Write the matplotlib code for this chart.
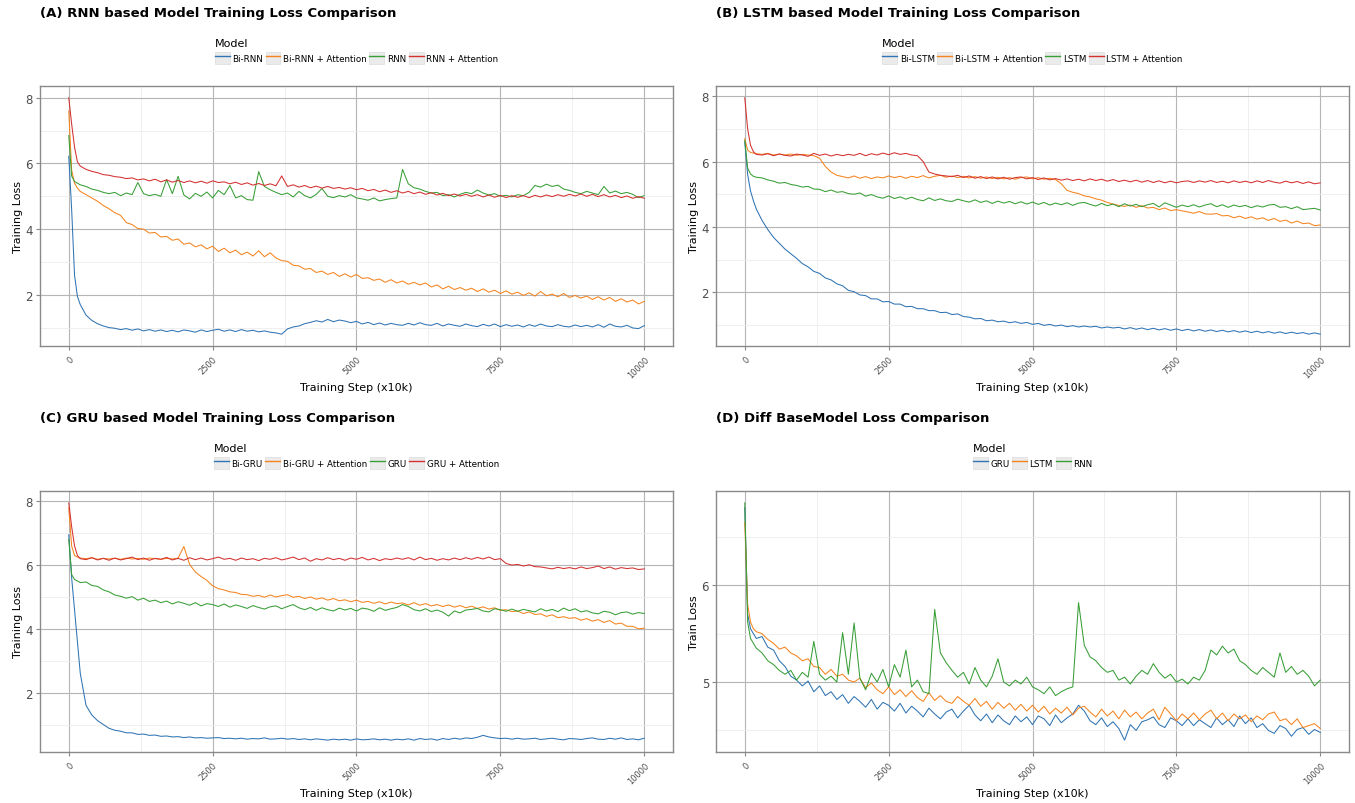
import numpy as np
import matplotlib.pyplot as plt
from matplotlib.lines import Line2D
from matplotlib.patches import Patch
from matplotlib.legend_handler import HandlerTuple
from matplotlib.ticker import MultipleLocator

plt.rcParams['font.family'] = 'DejaVu Sans'

steps = [0, 50, 100, 150] + list(range(200, 10001, 100))

# base models (shared by panels A/B/C and D)
rnn = [6.85, 5.62, 5.45, 5.40, 5.35, 5.30, 5.22, 5.18, 5.12, 5.08,
       5.12, 5.02, 5.10, 5.05, 5.42, 5.08, 5.02, 5.06, 5.00, 5.51,
       5.08, 5.61, 5.04, 4.92, 5.09, 5.00, 5.13, 4.95, 5.18, 5.05,
       5.33, 4.95, 5.02, 4.90, 4.88, 5.75, 5.30, 5.20, 5.12, 5.05,
       5.10, 4.98, 5.15, 5.02, 4.95, 5.06, 5.24, 5.00, 4.96, 5.02,
       4.98, 5.05, 4.95, 4.92, 4.88, 4.95, 4.86, 4.90, 4.93, 4.95,
       5.82, 5.38, 5.26, 5.22, 5.15, 5.10, 5.12, 5.02, 5.05, 4.98,
       5.06, 5.12, 5.08, 5.19, 5.10, 5.04, 5.08, 5.00, 5.03, 4.98,
       5.05, 5.02, 5.12, 5.33, 5.28, 5.37, 5.30, 5.34, 5.22, 5.18,
       5.12, 5.08, 5.15, 5.10, 5.05, 5.30, 5.10, 5.16, 5.08, 5.12,
       5.06, 4.96, 5.02]
gru = [6.80, 5.70, 5.55, 5.50, 5.45, 5.47, 5.36, 5.33, 5.22, 5.16,
       5.06, 5.02, 4.96, 5.01, 4.90, 4.96, 4.86, 4.90, 4.82, 4.87,
       4.78, 4.85, 4.80, 4.74, 4.82, 4.72, 4.79, 4.76, 4.70, 4.78,
       4.68, 4.75, 4.70, 4.64, 4.73, 4.67, 4.62, 4.69, 4.72, 4.63,
       4.70, 4.76, 4.66, 4.60, 4.67, 4.58, 4.66, 4.60, 4.56, 4.65,
       4.59, 4.64, 4.56, 4.65, 4.62, 4.55, 4.66, 4.58, 4.63, 4.67,
       4.76, 4.70, 4.60, 4.56, 4.63, 4.54, 4.59, 4.52, 4.40, 4.56,
       4.50, 4.59, 4.61, 4.64, 4.56, 4.53, 4.63, 4.60, 4.55, 4.62,
       4.55, 4.61, 4.57, 4.53, 4.63, 4.56, 4.61, 4.54, 4.65, 4.57,
       4.63, 4.53, 4.57, 4.50, 4.47, 4.55, 4.52, 4.44, 4.51, 4.53,
       4.46, 4.51, 4.48]
lstm = [6.65, 5.80, 5.62, 5.55, 5.52, 5.50, 5.44, 5.40, 5.34, 5.36,
        5.30, 5.27, 5.22, 5.24, 5.16, 5.15, 5.08, 5.13, 5.06, 5.08,
        5.02, 5.00, 5.04, 4.94, 4.99, 4.92, 4.88, 4.95, 4.87, 4.92,
        4.85, 4.91, 4.84, 4.80, 4.89, 4.81, 4.86, 4.80, 4.78, 4.85,
        4.80, 4.76, 4.83, 4.75, 4.80, 4.72, 4.79, 4.73, 4.78, 4.71,
        4.77, 4.70, 4.76, 4.69, 4.75, 4.67, 4.73, 4.68, 4.74, 4.66,
        4.73, 4.75, 4.69, 4.64, 4.72, 4.65, 4.70, 4.62, 4.71, 4.64,
        4.69, 4.62, 4.68, 4.72, 4.61, 4.74, 4.67, 4.60, 4.67, 4.62,
        4.68, 4.61, 4.67, 4.71, 4.62, 4.68, 4.60, 4.67, 4.62, 4.66,
        4.59, 4.65, 4.61, 4.67, 4.69, 4.60, 4.62, 4.56, 4.62, 4.53,
        4.55, 4.57, 4.52]

# panel A
bi_rnn = [6.22, 4.60, 2.60, 1.95, 1.70, 1.38, 1.22, 1.12, 1.05, 1.00,
          0.98, 0.94, 0.97, 0.92, 0.96, 0.90, 0.94, 0.89, 0.93, 0.88,
          0.92, 0.87, 0.93, 0.90, 0.86, 0.93, 0.88, 0.92, 0.95, 0.89,
          0.93, 0.88, 0.94, 0.89, 0.92, 0.87, 0.90, 0.86, 0.84, 0.80,
          0.96, 1.02, 1.05, 1.12, 1.16, 1.21, 1.17, 1.25, 1.18, 1.23,
          1.20, 1.15, 1.19, 1.11, 1.16, 1.09, 1.14, 1.08, 1.13, 1.09,
          1.07, 1.13, 1.08, 1.15, 1.09, 1.07, 1.13, 1.05, 1.11, 1.07,
          1.04, 1.11, 1.06, 1.03, 1.10, 1.05, 1.11, 1.03, 1.09, 1.04,
          1.08, 1.02, 1.09, 1.04, 1.11, 1.05, 1.03, 1.09, 1.04, 1.02,
          1.08, 1.03, 1.07, 1.02, 1.09, 1.01, 1.11, 1.04, 1.02, 1.07,
          0.99, 0.97, 1.06]
bi_rnn_att = [7.60, 5.80, 5.40, 5.25, 5.15, 5.05, 4.95, 4.85, 4.72, 4.62,
              4.50, 4.42, 4.20, 4.14, 4.02, 4.00, 3.88, 3.90, 3.76, 3.78,
              3.66, 3.70, 3.54, 3.58, 3.46, 3.52, 3.40, 3.48, 3.32, 3.42,
              3.28, 3.36, 3.22, 3.30, 3.18, 3.34, 3.16, 3.28, 3.12, 3.04,
              3.02, 2.90, 2.88, 2.78, 2.80, 2.68, 2.72, 2.62, 2.68, 2.56,
              2.64, 2.54, 2.62, 2.50, 2.52, 2.44, 2.48, 2.38, 2.46, 2.36,
              2.42, 2.32, 2.38, 2.30, 2.36, 2.24, 2.30, 2.18, 2.26, 2.16,
              2.22, 2.14, 2.20, 2.10, 2.18, 2.08, 2.14, 2.04, 2.12, 2.02,
              2.08, 1.98, 2.06, 1.96, 2.10, 1.97, 2.02, 1.94, 2.04, 1.92,
              1.98, 1.90, 1.96, 1.86, 1.94, 1.84, 1.92, 1.80, 1.88, 1.78,
              1.84, 1.72, 1.80]
rnn_att = [8.00, 7.20, 6.50, 6.05, 5.92, 5.82, 5.76, 5.72, 5.66, 5.64,
           5.60, 5.58, 5.54, 5.56, 5.50, 5.53, 5.47, 5.52, 5.44, 5.50,
           5.43, 5.48, 5.42, 5.47, 5.41, 5.46, 5.40, 5.47, 5.42, 5.44,
           5.38, 5.43, 5.36, 5.41, 5.34, 5.39, 5.33, 5.38, 5.32, 5.62,
           5.30, 5.35, 5.28, 5.33, 5.26, 5.31, 5.25, 5.30, 5.24, 5.27,
           5.22, 5.26, 5.20, 5.24, 5.17, 5.21, 5.14, 5.19, 5.12, 5.17,
           5.10, 5.15, 5.08, 5.13, 5.06, 5.11, 5.04, 5.09, 5.02, 5.07,
           5.01, 5.06, 5.00, 5.05, 4.98, 5.04, 4.97, 5.03, 4.96, 5.02,
           4.97, 5.02, 4.96, 5.03, 4.98, 5.04, 4.99, 5.05, 5.00, 5.06,
           5.01, 5.07, 5.00, 5.06, 4.99, 5.05, 4.98, 5.03, 4.96, 5.01,
           4.94, 4.99, 4.94]

# panel B
bi_lstm = [6.60, 5.60, 5.10, 4.80, 4.55, 4.20, 3.92, 3.68, 3.50, 3.32,
           3.18, 3.04, 2.88, 2.78, 2.64, 2.58, 2.44, 2.38, 2.26, 2.20,
           2.06, 2.02, 1.92, 1.90, 1.80, 1.80, 1.71, 1.72, 1.64, 1.64,
           1.56, 1.57, 1.50, 1.50, 1.44, 1.44, 1.38, 1.39, 1.32, 1.34,
           1.26, 1.24, 1.19, 1.20, 1.13, 1.15, 1.10, 1.12, 1.07, 1.10,
           1.05, 1.08, 1.02, 1.05, 0.99, 1.02, 0.97, 1.00, 0.95, 0.98,
           0.94, 0.97, 0.94, 0.96, 0.91, 0.94, 0.91, 0.93, 0.88, 0.92,
           0.87, 0.91, 0.86, 0.90, 0.85, 0.89, 0.84, 0.88, 0.83, 0.87,
           0.82, 0.86, 0.81, 0.85, 0.80, 0.84, 0.79, 0.83, 0.78, 0.82,
           0.77, 0.81, 0.76, 0.80, 0.75, 0.79, 0.74, 0.78, 0.74, 0.77,
           0.72, 0.76, 0.72]
bi_lstm_att = [6.70, 6.35, 6.28, 6.26, 6.24, 6.22, 6.25, 6.20, 6.23, 6.20,
               6.23, 6.19, 6.22, 6.20, 6.18, 6.10, 5.85, 5.68, 5.58, 5.54,
               5.50, 5.56, 5.49, 5.54, 5.48, 5.53, 5.50, 5.56, 5.51, 5.55,
               5.49, 5.55, 5.51, 5.57, 5.50, 5.55, 5.58, 5.52, 5.56, 5.51,
               5.55, 5.50, 5.54, 5.49, 5.53, 5.48, 5.52, 5.47, 5.51, 5.46,
               5.51, 5.53, 5.47, 5.51, 5.46, 5.49, 5.45, 5.32, 5.12, 5.06,
               5.02, 4.95, 4.92, 4.86, 4.82, 4.75, 4.70, 4.66, 4.63, 4.67,
               4.60, 4.65, 4.58, 4.60, 4.53, 4.58, 4.50, 4.53, 4.49, 4.46,
               4.42, 4.47, 4.40, 4.39, 4.41, 4.34, 4.35, 4.28, 4.33, 4.26,
               4.31, 4.24, 4.28, 4.20, 4.26, 4.17, 4.21, 4.12, 4.18, 4.10,
               4.12, 4.04, 4.06]
lstm_att = [7.95, 7.00, 6.50, 6.30, 6.22, 6.20, 6.24, 6.18, 6.23, 6.19,
            6.17, 6.23, 6.20, 6.16, 6.25, 6.19, 6.23, 6.17, 6.22, 6.18,
            6.22, 6.19, 6.25, 6.18, 6.24, 6.20, 6.26, 6.21, 6.27, 6.22,
            6.25, 6.20, 6.18, 6.00, 5.68, 5.62, 5.58, 5.56, 5.54, 5.58,
            5.51, 5.56, 5.49, 5.54, 5.48, 5.53, 5.47, 5.52, 5.46, 5.51,
            5.53, 5.47, 5.51, 5.45, 5.50, 5.44, 5.48, 5.43, 5.47, 5.42,
            5.46, 5.41, 5.47, 5.42, 5.46, 5.40, 5.45, 5.39, 5.43, 5.38,
            5.43, 5.37, 5.42, 5.36, 5.41, 5.35, 5.40, 5.35, 5.39, 5.41,
            5.36, 5.41, 5.37, 5.42, 5.36, 5.40, 5.35, 5.41, 5.36, 5.40,
            5.35, 5.41, 5.36, 5.42, 5.37, 5.34, 5.40, 5.35, 5.39, 5.33,
            5.38, 5.32, 5.35]

# panel C
bi_gru = [6.95, 5.60, 4.60, 3.60, 2.60, 1.60, 1.30, 1.12, 1.00, 0.88,
          0.82, 0.79, 0.74, 0.74, 0.69, 0.70, 0.66, 0.67, 0.63, 0.64,
          0.61, 0.62, 0.59, 0.61, 0.58, 0.59, 0.57, 0.58, 0.59, 0.56,
          0.57, 0.55, 0.57, 0.54, 0.56, 0.55, 0.58, 0.54, 0.55, 0.57,
          0.54, 0.56, 0.53, 0.55, 0.52, 0.55, 0.53, 0.51, 0.54, 0.52,
          0.54, 0.51, 0.55, 0.52, 0.53, 0.55, 0.52, 0.54, 0.51, 0.54,
          0.52, 0.55, 0.51, 0.56, 0.53, 0.55, 0.51, 0.56, 0.53, 0.57,
          0.54, 0.58, 0.56, 0.60, 0.66, 0.61, 0.58, 0.56, 0.57, 0.54,
          0.57, 0.54, 0.55, 0.57, 0.53, 0.55, 0.57, 0.54, 0.52, 0.56,
          0.55, 0.53, 0.56, 0.58, 0.54, 0.53, 0.57, 0.54, 0.58, 0.53,
          0.55, 0.52, 0.57]
bi_gru_att = [7.80, 6.60, 6.30, 6.25, 6.22, 6.20, 6.23, 6.18, 6.21, 6.19,
              6.21, 6.18, 6.22, 6.19, 6.21, 6.18, 6.22, 6.20, 6.18, 6.21,
              6.19, 6.22, 6.58, 6.02, 5.78, 5.64, 5.52, 5.35, 5.26, 5.22,
              5.16, 5.14, 5.08, 5.07, 5.02, 5.05, 4.99, 5.06, 5.00, 5.04,
              5.07, 4.99, 5.02, 4.95, 5.00, 4.93, 4.97, 4.90, 4.95, 4.88,
              4.91, 4.85, 4.90, 4.83, 4.86, 4.80, 4.85, 4.78, 4.84, 4.79,
              4.81, 4.75, 4.82, 4.74, 4.79, 4.72, 4.76, 4.70, 4.75, 4.68,
              4.73, 4.66, 4.71, 4.64, 4.69, 4.62, 4.66, 4.58, 4.60, 4.54,
              4.56, 4.48, 4.53, 4.45, 4.47, 4.39, 4.44, 4.35, 4.38, 4.33,
              4.35, 4.27, 4.32, 4.24, 4.29, 4.20, 4.26, 4.15, 4.18, 4.08,
              4.08, 4.00, 4.02]
gru_att = [7.95, 7.20, 6.60, 6.30, 6.20, 6.17, 6.23, 6.16, 6.21, 6.15,
           6.22, 6.16, 6.20, 6.25, 6.17, 6.22, 6.15, 6.21, 6.18, 6.24,
           6.16, 6.21, 6.15, 6.23, 6.17, 6.22, 6.16, 6.20, 6.25, 6.18,
           6.21, 6.15, 6.22, 6.17, 6.20, 6.14, 6.21, 6.18, 6.23, 6.16,
           6.20, 6.25, 6.17, 6.22, 6.12, 6.20, 6.16, 6.23, 6.17, 6.21,
           6.15, 6.22, 6.18, 6.24, 6.16, 6.21, 6.14, 6.20, 6.17, 6.22,
           6.18, 6.23, 6.16, 6.25, 6.17, 6.21, 6.15, 6.20, 6.16, 6.22,
           6.17, 6.23, 6.18, 6.24, 6.19, 6.25, 6.17, 6.20, 6.05, 6.00,
           6.02, 5.97, 6.01, 5.95, 5.94, 5.91, 5.88, 5.93, 5.89, 5.92,
           5.88, 5.94, 5.89, 5.92, 5.97, 5.89, 5.94, 5.87, 5.92, 5.89,
           5.91, 5.86, 5.88]

xticks = [0, 2500, 5000, 7500, 10000]
colors = ['#2f74b3', '#f5841f', '#389e36', '#d3302f']

fig = plt.figure(figsize=(13.55, 8.04), dpi=100)


def panel(rect, title, series, labels, ylabel, ymaj, ymin):
    ax = fig.add_axes(rect)
    for ys, lab, c in zip(series, labels, colors):
        ax.plot(steps, ys, color=c, lw=0.75, label=lab)
    allv = np.concatenate([np.asarray(s) for s in series])
    pad = 0.05 * (allv.max() - allv.min())
    ax.set_ylim(allv.min() - pad, allv.max() + pad)
    ax.set_xlim(-500, 10500)
    ax.set_xticks(xticks)
    ax.set_xticklabels([str(t) for t in xticks], rotation=45, ha='right',
                       rotation_mode='anchor')
    ax.xaxis.set_minor_locator(MultipleLocator(1250))
    ax.yaxis.set_major_locator(MultipleLocator(ymaj))
    ax.yaxis.set_minor_locator(MultipleLocator(ymin))
    ax.grid(which='major', color='#b5b5b5', lw=0.8)
    ax.grid(which='minor', color='#ededed', lw=0.6)
    ax.set_axisbelow(True)
    for s in ax.spines.values():
        s.set_color('#8a8a8a')
        s.set_linewidth(1.0)
    ax.tick_params(which='major', length=3, color='#8a8a8a', labelcolor='#4d4d4d')
    ax.tick_params(which='minor', length=0)
    ax.tick_params(axis='y', labelsize=8.5, pad=2)
    ax.tick_params(axis='x', labelsize=6, pad=3)
    ax.set_xlabel('Training Step (x10k)', fontsize=8, labelpad=2)
    ax.set_ylabel(ylabel, fontsize=8, labelpad=2)

    handles = [(Patch(facecolor='#ebebeb', edgecolor='#dcdcdc', lw=0.5),
                Line2D([], [], color=c, lw=1.0)) for c in colors[:len(series)]]
    ax.legend(handles, labels, handler_map={tuple: HandlerTuple(ndivide=1)},
              loc='lower center', bbox_to_anchor=(0.5, 1.085), ncol=len(series),
              frameon=False, fontsize=6.3, title='Model', title_fontsize=8,
              alignment='left', handlelength=1.7, handleheight=1.7,
              handletextpad=0.3, columnspacing=0.3, borderpad=0, borderaxespad=0)
    fig.text(rect[0], rect[1] + rect[3] + 73 / 804, title, fontsize=9.5,
             fontweight='bold', ha='left', va='center')
    return ax


w, h = 633 / 1355, 260 / 804
panel([40 / 1355, 1 - 347 / 804, w, h], '(A) RNN based Model Training Loss Comparison',
      [bi_rnn, bi_rnn_att, rnn, rnn_att],
      ['Bi-RNN', 'Bi-RNN + Attention', 'RNN', 'RNN + Attention'],
      'Training Loss', 2, 1)
panel([716 / 1355, 1 - 347 / 804, w, h], '(B) LSTM based Model Training Loss Comparison',
      [bi_lstm, bi_lstm_att, lstm, lstm_att],
      ['Bi-LSTM', 'Bi-LSTM + Attention', 'LSTM', 'LSTM + Attention'],
      'Training Loss', 2, 1)
panel([40 / 1355, 1 - 753 / 804, w, 261 / 804], '(C) GRU based Model Training Loss Comparison',
      [bi_gru, bi_gru_att, gru, gru_att],
      ['Bi-GRU', 'Bi-GRU + Attention', 'GRU', 'GRU + Attention'],
      'Training Loss', 2, 1)
panel([716 / 1355, 1 - 753 / 804, w, 261 / 804], '(D) Diff BaseModel Loss Comparison',
      [gru, lstm, rnn],
      ['GRU', 'LSTM', 'RNN'],
      'Train Loss', 1, 0.5)

fig.savefig('out.png', dpi=100, facecolor='white')
